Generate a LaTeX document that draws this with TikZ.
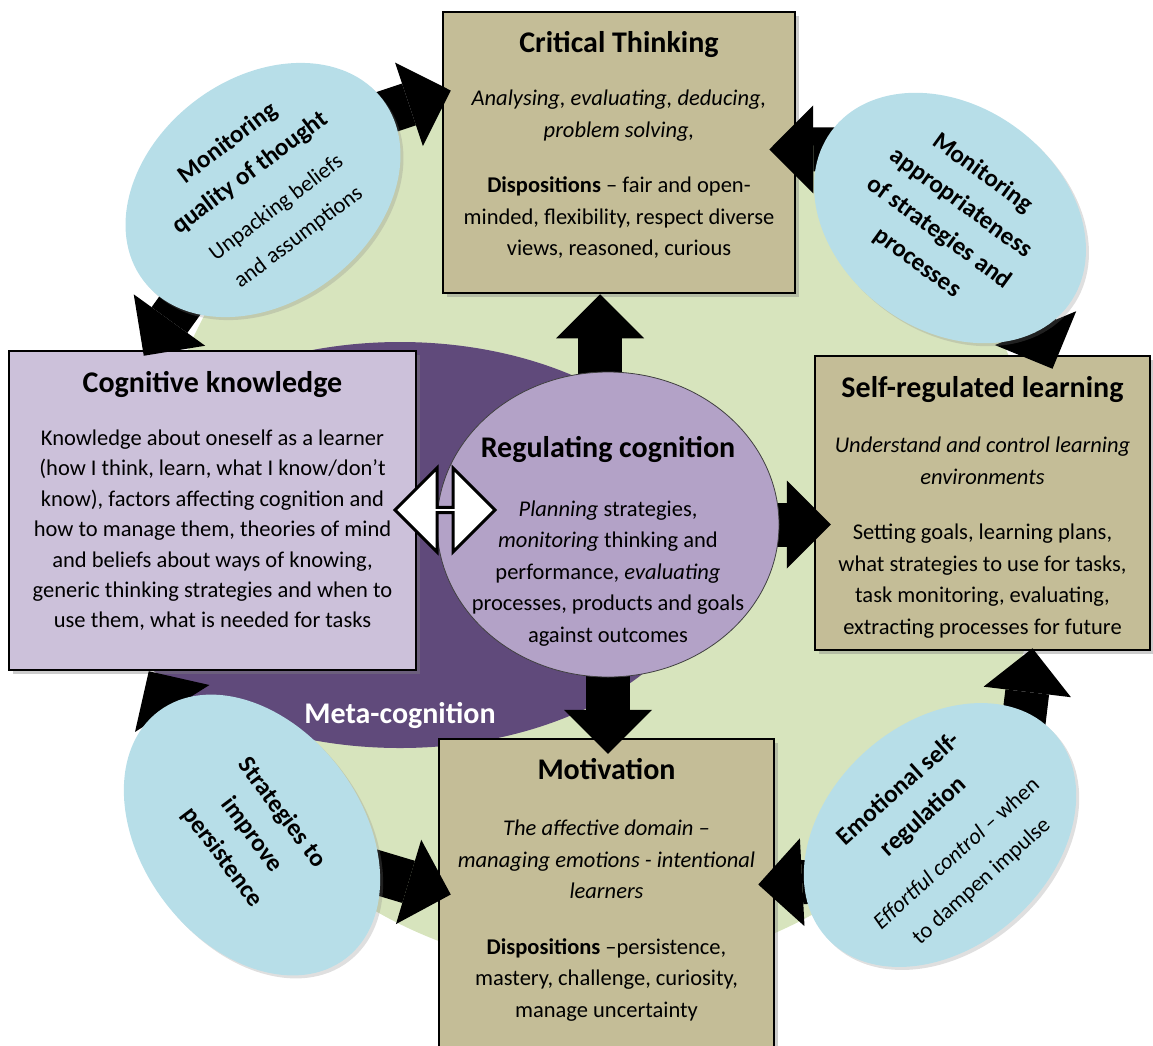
\documentclass[tikz,border=0pt]{standalone}
\usepackage{fontspec}
\setmainfont{Carlito}
\usetikzlibrary{positioning,shapes.geometric,shapes.arrows,arrows.meta,shadows}

\definecolor{bgGreen}{HTML}{D7E4BD}
\definecolor{metaPurple}{HTML}{604A7B}
\definecolor{regPurple}{HTML}{B3A2C7}
\definecolor{cogLilac}{HTML}{CCC1DA}
\definecolor{boxTan}{HTML}{C4BD97}
\definecolor{ovalBlue}{HTML}{B7DEE8}

\newcommand{\boxtitle}{\fontsize{30}{36}\selectfont\bfseries}
\newcommand{\boxtext}{\fontsize{22.5}{31.5}\selectfont}
\newcommand{\ovaltext}{\fontsize{22.5}{37}\selectfont}
\newcommand{\ovaltitle}{\fontsize{25}{37}\selectfont\bfseries}

\pgfdeclarelayer{back}
\pgfdeclarelayer{mid}
\pgfsetlayers{back,mid,main}

\begin{document}
\begin{tikzpicture}[
    x=1pt, y=-1pt,
    panel/.style={draw, line width=2.5pt, inner sep=0pt,
      drop shadow={opacity=0.4, shadow xshift=4pt, shadow yshift=-4pt}},
    ttl/.style={font=\boxtitle, inner sep=0pt},
    txt/.style={font=\boxtext, align=center, inner sep=0pt},
    oval/.style={ellipse, fill=ovalBlue, inner sep=0pt, align=center,
      font=\ovaltext, minimum width=300pt, minimum height=224pt,
      drop shadow={opacity=0.25, shadow xshift=3pt, shadow yshift=-3pt}},
    blk/.style={line width=44pt,
      -{Triangle[width=88pt, length=44pt, line width=0pt]}},
    dbl/.style={double arrow, draw, line width=3pt, fill=white, inner sep=0pt,
      minimum height=100pt, minimum width=84pt, double arrow head extend=23pt},
  ]
  \useasboundingbox (0,0) rectangle (1153,1045);

  % background and boxes
  \begin{pgfonlayer}{back}
    \fill[bgGreen] (597,525) circle[radius=445];
    \node[ellipse, fill=metaPurple, minimum width=628pt, minimum height=406pt] (meta) at (400,545) {};
    \node[ttl, text=white] (metaLbl) at ([yshift=33pt]meta.south) {Meta-cognition};
    \node[panel, fill=boxTan, minimum width=352pt, minimum height=281pt] (ct) at (619,152.5) {};
    \node[panel, fill=cogLilac, minimum width=407pt, minimum height=319pt] (cog) at (212.5,510.5) {};
    \node[panel, fill=boxTan, minimum width=335pt, minimum height=294pt] (srl) at (982.5,503) {};
    \node[panel, fill=boxTan, minimum width=335pt, minimum height=311pt] (mot) at (606.5,894.5) {};
  \end{pgfonlayer}

  % box texts
  \node[ttl, below=20pt of ct.north] (ctTitle) {Critical Thinking};
  \node[txt, below=79pt of ct.north] (ctText) {\textit{Analysing, evaluating, deducing,}\\
    \textit{problem solving,}\\[24pt]
    \textbf{Dispositions} – fair and open-\\
    minded, flexibility, respect diverse\\
    views, reasoned, curious};

  \node[ttl, below=21pt of cog.north] (cogTitle) {Cognitive knowledge};
  \node[txt, below=80pt of cog.north, font=\fontsize{22.5}{30.4}\selectfont] (cogText) {Knowledge about oneself as a learner\\
    (how I think, learn, what I know/don’t\\
    know), factors affecting cognition and\\
    how to manage them, theories of mind\\
    and beliefs about ways of knowing,\\
    generic thinking strategies and when to\\
    use them, what is needed for tasks};

  \node[ttl, below=21pt of srl.north] (srlTitle) {Self-regulated learning};
  \node[txt, below=82pt of srl.north] (srlText) {\textit{Understand and control learning}\\
    \textit{environments}\\[24pt]
    Setting goals, learning plans,\\
    what strategies to use for tasks,\\
    task monitoring, evaluating,\\
    extracting processes for future};

  \node[ttl, below=20pt of mot.north] (motTitle) {Motivation};
  \node[txt, below=82pt of mot.north] (motText) {\textit{The affective domain –}\\
    \textit{managing emotions - intentional}\\
    \textit{learners}\\[24pt]
    \textbf{Dispositions} –persistence,\\
    mastery, challenge, curiosity,\\
    manage uncertainty};

  % blue ovals
  \node[oval, rotate=37] (tlq) at (263,190) {{\ovaltitle Monitoring}\\
    {\ovaltitle quality of thought}\\[6pt]
    Unpacking beliefs\\
    and assumptions};
  \node[oval, rotate=-36, font=\ovaltitle, minimum width=294pt] (tra) at (950,218) {Monitoring\\
    appropriateness\\
    of strategies and\\
    processes};
  \node[oval, rotate=-53, font=\ovaltitle, minimum width=310pt, minimum height=220pt] (blp) at (252,835) {Strategies to\\
    improve\\
    persistence};
  \node[oval, rotate=42, minimum width=306pt] (bre) at (940,835) {{\ovaltitle Emotional self-}\\
    {\ovaltitle regulation}\\[12pt]
    \textit{Effortful control} – when\\
    to dampen impulse};

  % regulating cognition
  \node[ellipse, fill=regPurple, draw=black!75, line width=0.8pt,
    minimum width=342pt, minimum height=305pt] (reg) at (608,524.5) {};
  \node[ttl, below=65pt of reg.north] (regTitle) {Regulating cognition};
  \node[txt, below=129pt of reg.north] (regText) {\textit{Planning} strategies,\\
    \textit{monitoring} thinking and\\
    performance, \textit{evaluating}\\
    processes, products and goals\\
    against outcomes};

  % block arrows
  \begin{pgfonlayer}{mid}
    \draw[blk] ([shift={(0,-37)}]tlq.center) -- ([shift={(9,-62)}]ct.west);
    \draw[blk] (tlq.center) -- ([shift={(136,6)}]cog.north west);
    \draw[blk] ([shift={(0,-69)}]tra.center) -- ([shift={(-27,-3)}]ct.east);
    \draw[blk] ([shift={(53,32)}]tra.center) -- ([shift={(70,14)}]srl.north);
    \draw[blk] (blp.center) -- ([shift={(141,0)}]cog.south west);
    \draw[blk] (blp.center) -- ([shift={(13,0)}]mot.west);
    \draw[blk] ([shift={(0,40)}]bre.center) -- ([shift={(-17,-10)}]mot.east);
    \draw[blk] ([shift={(70,0)}]bre.center) -- ([shift={(50,-3)}]srl.south);
    \draw[blk] ([xshift=-8pt]reg.center) -- ([xshift=-8pt]reg.center |- ct.south);
    \draw[blk] (reg.center) -- ([xshift=17pt]reg.center -| srl.west);
    \draw[blk] (reg.center) -- ([yshift=-16pt]reg.center |- mot.north);
  \end{pgfonlayer}

  \node[dbl] (swap) at (445,510) {};
\end{tikzpicture}
\end{document}
